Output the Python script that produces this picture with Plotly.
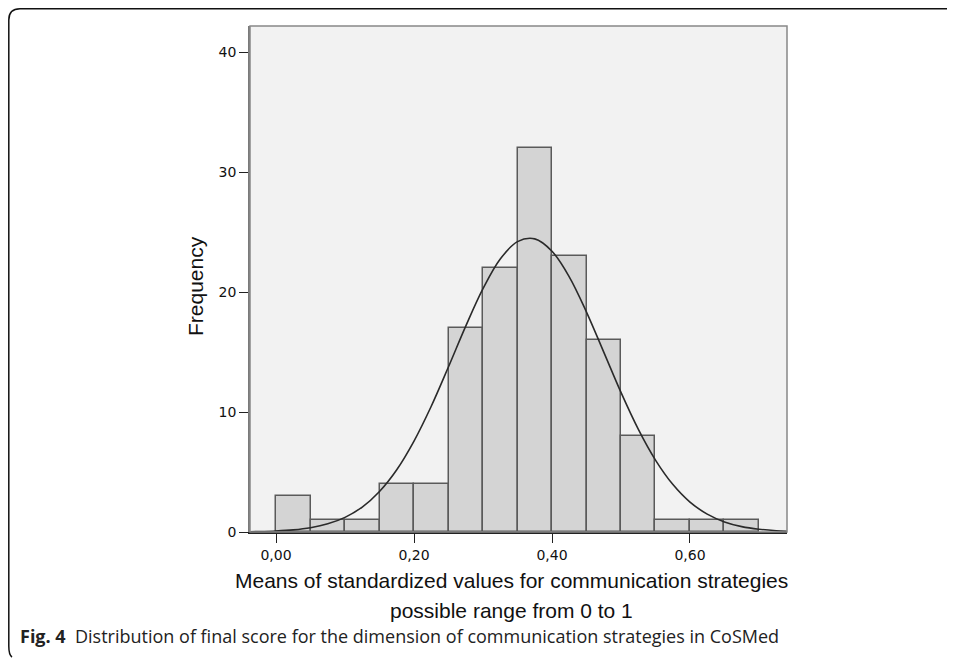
import plotly.graph_objects as go

# Histogram data
bin_left = [0.00, 0.05, 0.10, 0.15, 0.20, 0.25, 0.30, 0.35, 0.40, 0.45, 0.50, 0.55, 0.60, 0.65]
bin_width = 0.05
counts = [3, 1, 1, 4, 4, 17, 22, 32, 23, 16, 8, 1, 1, 1]

# Fitted normal curve
curve_x = [-0.05, -0.025, 0.0, 0.025, 0.05, 0.075, 0.1, 0.125, 0.15, 0.175, 0.2, 0.225, 0.25,
           0.275, 0.3, 0.325, 0.35, 0.375, 0.4, 0.425, 0.45, 0.475, 0.5, 0.525, 0.55, 0.575,
           0.6, 0.625, 0.65, 0.675, 0.7, 0.725, 0.75]
curve_y = [0.016, 0.038, 0.085, 0.18, 0.36, 0.68, 1.22, 2.08, 3.38, 5.19, 7.58, 10.48, 13.77,
           17.16, 20.28, 22.75, 24.2, 24.43, 23.4, 21.27, 18.33, 14.99, 11.63, 8.57, 5.99, 3.97,
           2.49, 1.49, 0.84, 0.45, 0.23, 0.11, 0.05]

x_tickvals = [0.0, 0.2, 0.4, 0.6]
x_ticktext = ["0,00", "0,20", "0,40", "0,60"]
y_tickvals = [0, 10, 20, 30, 40]

OFF = 8  # page body margin
W, H = 955 - OFF, 658 - OFF
L, R, T, B = 250 - OFF, 168, 26 - OFF, 126
pw, ph = W - L - R, H - T - B

def px(x):
    """reference-page x pixel -> paper coord"""
    return (x - OFF - L) / pw

def py(y):
    """reference-page y pixel -> paper coord"""
    return (H - B - (y - OFF)) / ph

fig = go.Figure()
fig.add_trace(go.Bar(
    x=bin_left, y=counts, width=bin_width, offset=0,
    marker=dict(color="#d4d4d4", line=dict(color="#5a5a5a", width=1.5)),
    hoverinfo="skip", showlegend=False,
))
fig.add_trace(go.Scatter(
    x=curve_x, y=curve_y, mode="lines", line=dict(color="#2a2a2a", width=1.6, shape="spline"),
    hoverinfo="skip", showlegend=False,
))

fig.update_layout(
    width=W, height=H,
    margin=dict(l=L, r=R, t=T, b=B, pad=0),
    paper_bgcolor="white",
    plot_bgcolor="#f2f2f2",
    bargap=0,
    xaxis=dict(
        range=[-0.0377, 0.7406], tickvals=x_tickvals, ticktext=x_ticktext,
        ticks="outside", ticklen=9, tickwidth=1.3, tickcolor="#222",
        showline=True, linecolor="#222", linewidth=1.5,
        showgrid=False, zeroline=False,
        tickfont=dict(family="DejaVu Sans", size=14, color="#111"),
    ),
    yaxis=dict(
        range=[0, 42.17], tickvals=y_tickvals,
        ticks="outside", ticklen=9, tickwidth=1.3, tickcolor="#222",
        showline=True, linecolor="#7a7a7a", linewidth=1.5,
        showgrid=False, zeroline=False,
        tickfont=dict(family="DejaVu Sans", size=14, color="#111"),
    ),
    shapes=[
        # plot border
        dict(type="rect", xref="paper", yref="paper", x0=0, y0=0, x1=1, y1=1,
             line=dict(color="#888", width=1.5), layer="above"),
        # outer rounded frame
        dict(type="path", xref="paper", yref="paper",
             path=(f"M {px(970)},{py(8.8)} L {px(20)},{py(8.8)} "
                   f"Q {px(8.8)},{py(8.8)} {px(8.8)},{py(20)} "
                   f"L {px(8.8)},{py(646)} Q {px(8.8)},{py(655)} {px(12)},{py(657)}"),
             line=dict(color="#111", width=1.5)),
    ],
    annotations=[
        dict(text="Frequency", xref="paper", yref="paper", x=px(196), y=py(286),
             textangle=-90, showarrow=False, xanchor="center", yanchor="middle",
             font=dict(family="Liberation Sans", size=21, color="#111")),
        dict(text="Means of standardized values for communication strategies",
             xref="paper", yref="paper", x=px(511), y=py(580), showarrow=False,
             xanchor="center", yanchor="middle",
             font=dict(family="Liberation Sans", size=21, color="#111")),
        dict(text="possible range from 0 to 1",
             xref="paper", yref="paper", x=px(511), y=py(610), showarrow=False,
             xanchor="center", yanchor="middle",
             font=dict(family="Liberation Sans", size=21, color="#111")),
        dict(text="<b>Fig. 4</b>  Distribution of final score for the dimension of communication strategies in CoSMed",
             xref="paper", yref="paper", x=px(18), y=py(636), showarrow=False,
             xanchor="left", yanchor="middle",
             font=dict(family="Open Sans", size=18, color="#222")),
    ],
)

fig.write_html("out.html")
